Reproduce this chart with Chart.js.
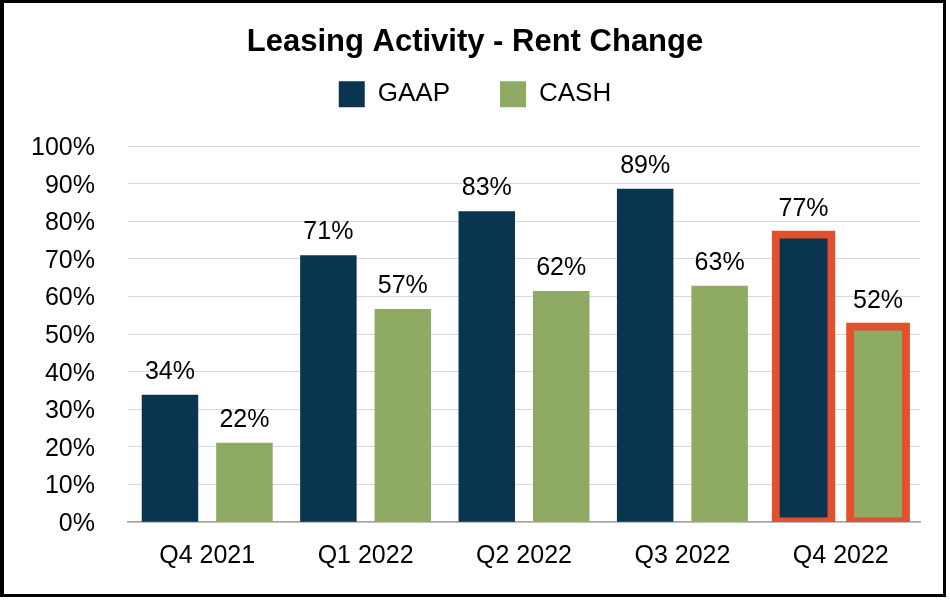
<!DOCTYPE html>
<html>
<head>
<meta charset="utf-8">
<script src="https://cdn.jsdelivr.net/npm/chart.js@4"></script>
<style>
html,body{margin:0;padding:0;background:#fff;}
#wrap{position:relative;width:950px;height:600px;overflow:hidden;}
canvas{position:absolute;left:0;top:0;}
#frame{position:absolute;left:0;top:0;width:946px;height:597px;box-sizing:border-box;border:3px solid #000;border-left-width:4px;pointer-events:none;}
</style>
</head>
<body>
<div id="wrap"><canvas id="c" width="950" height="600"></canvas><div id="frame"></div></div>
<script>
const chartTitle = 'Leasing Activity - Rent Change';
const categories = ['Q4 2021', 'Q1 2022', 'Q2 2022', 'Q3 2022', 'Q4 2022'];
const seriesNames = ['GAAP', 'CASH'];
const gaapValues = [33.8, 70.9, 82.6, 88.6, 76.5];
const cashValues = [21.0, 56.6, 61.4, 62.8, 52.0];
const gaapLabels = ['34%', '71%', '83%', '89%', '77%'];
const cashLabels = ['22%', '57%', '62%', '63%', '52%'];
const yTickValues = [0, 10, 20, 30, 40, 50, 60, 70, 80, 90, 100];
const highlightIndex = 4;

const NAVY = '#0A3551';
const GREEN = '#8FAB63';
const RED = '#E2502E';

Chart.defaults.font.family = "'Liberation Sans', Arial, sans-serif";
Chart.defaults.color = '#000';

const borderW = ctx => ctx.dataIndex === highlightIndex ? 8 : 0;
const inflate = ctx => ctx.dataIndex === highlightIndex ? 4 : 0.33;

const legendHeightFix = {
  id: 'legendHeightFix',
  beforeInit(chart) {
    if (!chart.legend) return;
    const orig = chart.legend.fit;
    chart.legend.fit = function () {
      orig.call(this);
      this.height = 115;
    };
  }
};

const valueLabels = {
  id: 'valueLabels',
  afterDatasetsDraw(chart) {
    const ctx = chart.ctx;
    ctx.save();
    ctx.font = "25px 'Liberation Sans', Arial, sans-serif";
    ctx.fillStyle = '#000';
    ctx.textAlign = 'center';
    ctx.textBaseline = 'middle';
    chart.data.datasets.forEach((ds, i) => {
      chart.getDatasetMeta(i).data.forEach((bar, j) => {
        const extra = j === highlightIndex ? 2 : 0;
        ctx.fillText(ds.valueText[j], bar.x, bar.y - 23 - extra);
      });
    });
    ctx.restore();
  }
};

new Chart(document.getElementById('c'), {
  type: 'bar',
  data: {
    labels: categories,
    datasets: [
      {
        label: seriesNames[0],
        data: gaapValues,
        valueText: gaapLabels,
        backgroundColor: NAVY,
        borderColor: ctx => ctx.dataIndex === highlightIndex ? RED : NAVY,
        borderWidth: borderW,
        inflateAmount: inflate,
        borderSkipped: false,
        clip: 0,
        categoryPercentage: 0.94,
        barPercentage: 0.75
      },
      {
        label: seriesNames[1],
        data: cashValues,
        valueText: cashLabels,
        backgroundColor: GREEN,
        borderColor: ctx => ctx.dataIndex === highlightIndex ? RED : GREEN,
        borderWidth: borderW,
        inflateAmount: inflate,
        borderSkipped: false,
        clip: 0,
        categoryPercentage: 0.94,
        barPercentage: 0.75
      }
    ]
  },
  options: {
    responsive: false,
    animation: false,
    devicePixelRatio: 1,
    layout: { padding: { left: 0, right: 0, top: 0, bottom: 0 } },
    plugins: {
      title: {
        display: true,
        text: chartTitle,
        color: '#000',
        font: { size: 31, weight: 'bold' },
        padding: { top: 24, bottom: -30 }
      },
      legend: {
        display: true,
        position: 'top',
        labels: {
          color: '#000',
          font: { size: 26 },
          boxWidth: 26,
          boxHeight: 26,
          padding: 50
        }
      },
      tooltip: { enabled: false }
    },
    scales: {
      x: {
        grid: { display: false, drawTicks: false },
        border: { display: true, color: '#A6A6A6', width: 1.5 },
        ticks: { font: { size: 25 }, color: '#000', padding: 19 },
        afterFit: s => { s.height = 78; }
      },
      y: {
        min: 0,
        max: 100,
        afterBuildTicks: s => { s.ticks = yTickValues.map(v => ({ value: v })); },
        ticks: { font: { size: 25 }, color: '#000', padding: 33, labelOffset: 2, callback: v => v + '%' },
        grid: { color: '#D9D9D9', lineWidth: 1, drawTicks: false },
        border: { display: false },
        afterFit: s => { s.width = 128; }
      },
      yRight: {
        type: 'linear',
        position: 'right',
        display: true,
        grid: { display: false, drawTicks: false },
        border: { display: false },
        ticks: { display: false },
        afterFit: s => { s.width = 30; }
      }
    }
  },
  plugins: [legendHeightFix, valueLabels]
});
</script>
</body>
</html>
